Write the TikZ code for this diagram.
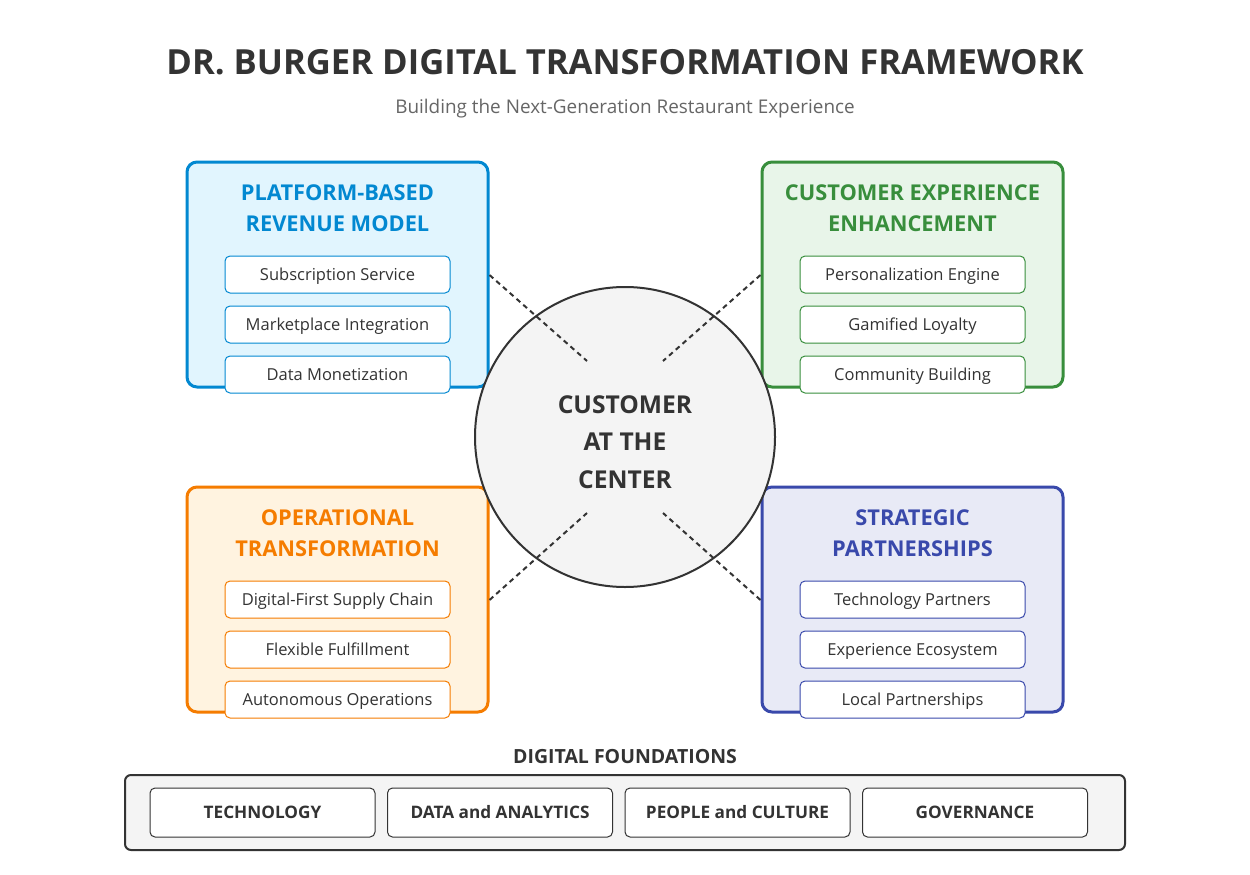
\documentclass[tikz,border=0pt]{standalone}
\usepackage{fontspec}
\setmainfont{Open Sans}
\usepackage{tikz}
\usetikzlibrary{positioning}

\definecolor{ink}{HTML}{333333}
\definecolor{soft}{HTML}{666666}
\definecolor{hubfill}{HTML}{F4F4F4}
\definecolor{blueline}{HTML}{0288D1}
\definecolor{bluefill}{HTML}{E1F5FE}
\definecolor{greenline}{HTML}{388E3C}
\definecolor{greenfill}{HTML}{E8F5E9}
\definecolor{orangeline}{HTML}{F57C00}
\definecolor{orangefill}{HTML}{FFF3E0}
\definecolor{indigoline}{HTML}{3949AB}
\definecolor{indigofill}{HTML}{E8EAF6}

\tikzset{
  panel/.style={draw=#1line,fill=#1fill,line width=3pt,rounded corners=10pt,
    minimum width=301pt,minimum height=225pt,inner sep=0pt},
  paneltitle/.style={text=#1line,font=\fontsize{21.8}{31}\selectfont\bfseries,align=center},
  item/.style={draw=#1line,fill=white,line width=1pt,rounded corners=5pt,
    minimum width=225pt,minimum height=37pt,inner sep=0pt,text=ink,
    text height=13pt,text depth=1pt,font=\fontsize{16.5}{18}\selectfont},
  base/.style={draw=ink,fill=white,line width=1pt,rounded corners=5pt,
    minimum width=225pt,minimum height=49pt,inner sep=0pt,text=ink,
    text height=13pt,text depth=1pt,font=\fontsize{17.2}{18}\selectfont\bfseries},
  link/.style={draw=ink,line width=2pt,dash pattern=on 5pt off 4pt}
}

\begin{document}
\begin{tikzpicture}[x=1pt,y=-1pt,node distance=50pt,on grid]
\useasboundingbox[fill=white] (0,0) rectangle (1250,875);

% heading
\node[text=ink,font=\fontsize{34.6}{40}\selectfont\bfseries] (title) at (625,62) {DR. BURGER DIGITAL TRANSFORMATION FRAMEWORK};
\node[text=soft,font=\fontsize{18.9}{22}\selectfont] (subtitle) at (625,108.5) {Building the Next-Generation Restaurant Experience};

% platform-based revenue model
\node[panel=blue] (platform) at (337.5,274.5) {};
\node[paneltitle=blue] (platformtitle) at (337.5,208.5) {PLATFORM-BASED\\REVENUE MODEL};
\node[item=blue] (p1) at (337.5,274.5) {Subscription Service};
\node[item=blue] (p2) [below=of p1] {Marketplace Integration};
\node[item=blue] (p3) [below=of p2] {Data Monetization};

% customer experience enhancement
\node[panel=green] (experience) at (912.5,274.5) {};
\node[paneltitle=green] (experiencetitle) at (912.5,208.5) {CUSTOMER EXPERIENCE\\ENHANCEMENT};
\node[item=green] (e1) at (912.5,274.5) {Personalization Engine};
\node[item=green] (e2) [below=of e1] {Gamified Loyalty};
\node[item=green] (e3) [below=of e2] {Community Building};

% operational transformation
\node[panel=orange] (operations) at (337.5,599.5) {};
\node[paneltitle=orange] (operationstitle) at (337.5,533.5) {OPERATIONAL\\TRANSFORMATION};
\node[item=orange] (o1) at (337.5,599.5) {Digital-First Supply Chain};
\node[item=orange] (o2) [below=of o1] {Flexible Fulfillment};
\node[item=orange] (o3) [below=of o2] {Autonomous Operations};

% strategic partnerships
\node[panel=indigo] (partners) at (912.5,599.5) {};
\node[paneltitle=indigo] (partnerstitle) at (912.5,533.5) {STRATEGIC\\PARTNERSHIPS};
\node[item=indigo] (s1) at (912.5,599.5) {Technology Partners};
\node[item=indigo] (s2) [below=of s1] {Experience Ecosystem};
\node[item=indigo] (s3) [below=of s2] {Local Partnerships};

% hub
\node[circle,draw=ink,fill=hubfill,line width=2pt,minimum size=300pt,inner sep=0pt] (hub) at (625,437) {};
\node[text=ink,align=center,font=\fontsize{24.6}{37.5}\selectfont\bfseries] (hubtext) at (625,442) {CUSTOMER\\AT THE\\CENTER};

\coordinate (hubnw) at (587,361);
\coordinate (hubne) at (663,361);
\coordinate (hubsw) at (587,513);
\coordinate (hubse) at (663,513);
\draw[link] (platform.east |- 0,275) -- (hubnw);
\draw[link] (experience.west |- 0,275) -- (hubne);
\draw[link] (operations.east |- 0,600) -- (hubsw);
\draw[link] (partners.west |- 0,600) -- (hubse);

% foundations
\node[text=ink,font=\fontsize{19.5}{22}\selectfont\bfseries] (foundtitle) at (625,757) {DIGITAL FOUNDATIONS};
\node[draw=ink,fill=hubfill,line width=2pt,rounded corners=6pt,minimum width=1000pt,
  minimum height=75pt,inner sep=0pt] (foundations) at (625,812.5) {};
\node[base] (f1) at (262.5,812.5) {TECHNOLOGY};
\node[base] (f2) [right=237.5pt of f1] {DATA and ANALYTICS};
\node[base] (f3) [right=237.5pt of f2] {PEOPLE and CULTURE};
\node[base] (f4) [right=237.5pt of f3] {GOVERNANCE};
\end{tikzpicture}
\end{document}
